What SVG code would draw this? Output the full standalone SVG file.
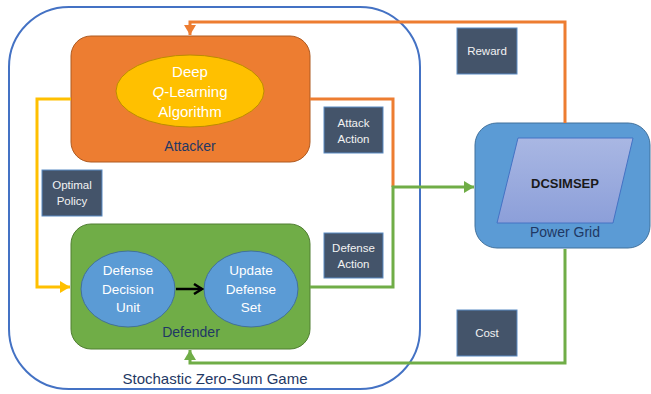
<svg xmlns="http://www.w3.org/2000/svg" width="651" height="394" viewBox="0 0 651 394">
<defs>
<style>
text{font-family:"Liberation Sans",Arial,sans-serif;text-anchor:middle}
.lbl{fill:#44546A;stroke:#5B8BC4;stroke-width:1}
.lt{fill:#F2F2F2;font-size:11.5px}
.navy{fill:#1F3864}
.wt{fill:#FFFFFF}
.conn{fill:none;stroke-width:3;stroke-linejoin:miter}
</style>
<linearGradient id="pg" x1="0" y1="0" x2="0" y2="1">
<stop offset="0" stop-color="#A9B7E3"/>
<stop offset="1" stop-color="#8C9FD9"/>
</linearGradient>
<marker id="aO" markerUnits="userSpaceOnUse" markerWidth="12" markerHeight="12" refX="10" refY="6" orient="auto"><path d="M0,0 L10,6 L0,12 Z" fill="#ED7D31"/></marker>
<marker id="aG" markerUnits="userSpaceOnUse" markerWidth="12" markerHeight="12" refX="10" refY="6" orient="auto"><path d="M0,0 L10,6 L0,12 Z" fill="#70AD47"/></marker>
<marker id="aY" markerUnits="userSpaceOnUse" markerWidth="12" markerHeight="12" refX="10" refY="6" orient="auto"><path d="M0,0 L10,6 L0,12 Z" fill="#FFC000"/></marker>
<marker id="aK" markerUnits="userSpaceOnUse" markerWidth="12" markerHeight="12" refX="9" refY="6" orient="auto"><path d="M1,1 L9,6 L1,11" fill="none" stroke="#000" stroke-width="2.5"/></marker>
</defs>

<g id="game">
<rect x="9" y="7" width="411" height="382" rx="60" ry="60" fill="none" stroke="#4472C4" stroke-width="2"/>
<text x="215" y="384" class="navy" font-size="15">Stochastic Zero-Sum Game</text>
</g>

<g id="attacker">
<rect x="71" y="36" width="239" height="126" rx="20" ry="20" fill="#ED7D31" stroke="#AE5A21" stroke-width="1"/>
<text x="190" y="151" class="navy" font-size="14">Attacker</text>
</g>
<g id="dql">
<ellipse cx="190" cy="91" rx="74" ry="36" fill="#FFC000" stroke="#BC8C00" stroke-width="1"/>
<text x="190" y="77" class="wt" font-size="15">Deep</text>
<text x="190" y="97" class="wt" font-size="15"><tspan font-style="italic">Q</tspan>-Learning</text>
<text x="190" y="117" class="wt" font-size="15">Algorithm</text>
</g>

<g id="defender">
<rect x="71" y="224" width="239" height="125" rx="20" ry="20" fill="#70AD47" stroke="#507E32" stroke-width="1"/>
<text x="191" y="337" class="navy" font-size="14">Defender</text>
</g>
<g id="ddu">
<ellipse cx="128" cy="289" rx="47" ry="38" fill="#5B9BD5" stroke="#41719C" stroke-width="1"/>
<text x="128" y="275" class="wt" font-size="13.5">Defense</text>
<text x="128" y="294" class="wt" font-size="13.5">Decision</text>
<text x="128" y="312" class="wt" font-size="13.5">Unit</text>
</g>
<g id="uds">
<ellipse cx="251" cy="289" rx="47" ry="38" fill="#5B9BD5" stroke="#41719C" stroke-width="1"/>
<text x="251" y="275" class="wt" font-size="13.5">Update</text>
<text x="251" y="294" class="wt" font-size="13.5">Defense</text>
<text x="251" y="312" class="wt" font-size="13.5">Set</text>
</g>

<g id="powergrid">
<rect x="475" y="123" width="175" height="125" rx="22" ry="22" fill="#5B9BD5" stroke="#41719C" stroke-width="1"/>
<polygon points="518,138 633,138 613,223 497,223" fill="url(#pg)" stroke="#4472C4" stroke-width="1"/>
<text x="565" y="188" fill="#1A1A1A" font-size="13" font-weight="bold">DCSIMSEP</text>
<text x="565" y="237" class="navy" font-size="14">Power Grid</text>
</g>

<g id="optimal-policy">
<rect class="lbl" x="42" y="170" width="60" height="46"/>
<text x="72" y="189" class="lt">Optimal</text>
<text x="72" y="205" class="lt">Policy</text>
</g>
<g id="attack-action">
<rect class="lbl" x="324" y="107" width="59" height="46"/>
<text x="353.5" y="127" class="lt">Attack</text>
<text x="353.5" y="143" class="lt">Action</text>
</g>
<g id="defense-action">
<rect class="lbl" x="324" y="233" width="59" height="45"/>
<text x="353.5" y="252" class="lt">Defense</text>
<text x="353.5" y="268" class="lt">Action</text>
</g>
<g id="reward">
<rect class="lbl" x="457" y="28" width="60" height="46"/>
<text x="487" y="55" class="lt">Reward</text>
</g>
<g id="cost">
<rect class="lbl" x="457" y="310" width="60" height="46"/>
<text x="487" y="337" class="lt">Cost</text>
</g>

<g id="connectors">
<polyline class="conn" stroke="#ED7D31" points="565,123 565,22 190,22 190,35" marker-end="url(#aO)"/>
<polyline class="conn" stroke="#ED7D31" points="310,99 393,99 393,187"/>
<polyline class="conn" stroke="#70AD47" points="310,287 393,287 393,187 474,187" marker-end="url(#aG)"/>
<polyline class="conn" stroke="#70AD47" points="565,249 565,363 190,363 190,350" marker-end="url(#aG)"/>
<polyline class="conn" stroke="#FFC000" points="71,99 37,99 37,287 70,287" marker-end="url(#aY)"/>
<line x1="176" y1="289" x2="202" y2="289" stroke="#000" stroke-width="2.5" marker-end="url(#aK)"/>
</g>
</svg>
